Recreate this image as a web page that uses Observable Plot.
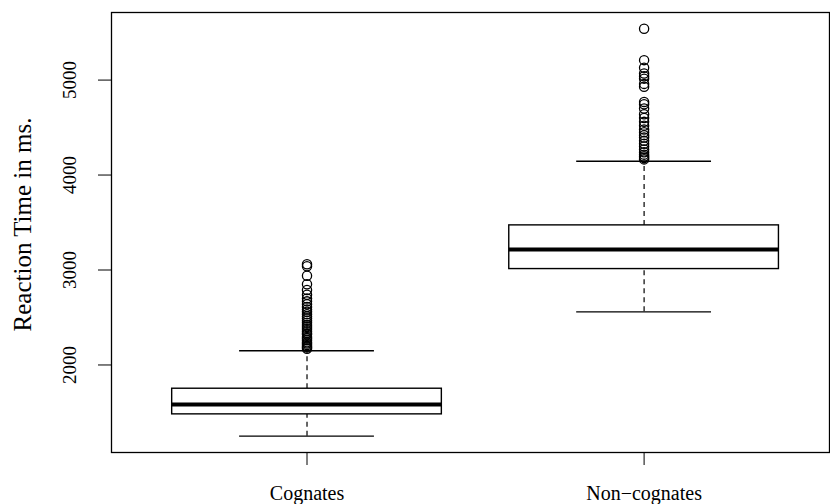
<!DOCTYPE html>
<html><head><meta charset="utf-8">
<script src="https://cdn.jsdelivr.net/npm/d3@7"></script>
<script src="https://cdn.jsdelivr.net/npm/@observablehq/plot@0.6"></script>
<style>body{margin:0;background:#fff} svg{display:block}</style>
</head><body><div id="chart"></div>
<script>
const categories = ["Cognates", "Non\u2212cognates"];
const lowerWhisker = [1250, 2560];
const q1 = [1480, 3010];
const median = [1585, 3215];
const q3 = [1750, 3470];
const upperWhisker = [2150, 4145];
const outliersCognates = [3060, 3040, 2940, 2850, 2790, 2740, 2700, 2670, 2640, 2610, 2585, 2560, 2535, 2510, 2490, 2465, 2445, 2420, 2400, 2380, 2355, 2335, 2320, 2295, 2280, 2260, 2240, 2225, 2210, 2195, 2185, 2170];
const outliersNonCognates = [5540, 5210, 5130, 5070, 5040, 5015, 4960, 4930, 4770, 4745, 4700, 4640, 4600, 4560, 4520, 4480, 4450, 4420, 4395, 4360, 4330, 4300, 4270, 4240, 4215, 4195, 4180, 4165];
const yTicks = [2000, 3000, 4000, 5000];
const yLabel = "Reaction Time in ms.";

const boxes = categories.map((c, i) => ({pos: i + 1, cat: c, lo: lowerWhisker[i], q1: q1[i], med: median[i], q3: q3[i], hi: upperWhisker[i]}));
const outliers = [
  ...outliersCognates.map(v => ({pos: 1, v})),
  ...outliersNonCognates.map(v => ({pos: 2, v}))
];
const allVals = [...lowerWhisker, ...upperWhisker, ...outliersCognates, ...outliersNonCognates];
const yMin = d3.min(allVals), yMax = d3.max(allVals);
const pad = 0.04 * (yMax - yMin);

const font = "'Liberation Serif', 'DejaVu Serif', serif";
const chart = Plot.plot({
  width: 830,
  height: 504,
  marginTop: 12,
  marginBottom: 52,
  marginLeft: 111,
  marginRight: 1,
  style: {fontFamily: font, fontSize: "19px", background: "white", color: "black"},
  x: {type: "linear", domain: [0.42, 2.55]},
  y: {domain: [yMin - pad, yMax + pad]},
  marks: [
    Plot.ruleX(boxes, {x: "pos", y1: "q3", y2: "hi", stroke: "black", strokeWidth: 1.2, strokeDasharray: "5,4"}),
    Plot.ruleX(boxes, {x: "pos", y1: "lo", y2: "q1", stroke: "black", strokeWidth: 1.2, strokeDasharray: "5,4"}),
    Plot.ruleY(boxes, {y: "hi", x1: d => d.pos - 0.2, x2: d => d.pos + 0.2, stroke: "black", strokeWidth: 1.3}),
    Plot.ruleY(boxes, {y: "lo", x1: d => d.pos - 0.2, x2: d => d.pos + 0.2, stroke: "black", strokeWidth: 1.3}),
    Plot.rect(boxes, {x1: d => d.pos - 0.4, x2: d => d.pos + 0.4, y1: "q1", y2: "q3", fill: "white", stroke: "black", strokeWidth: 1.4}),
    Plot.ruleY(boxes, {y: "med", x1: d => d.pos - 0.4, x2: d => d.pos + 0.4, stroke: "black", strokeWidth: 4}),
    Plot.dot(outliers, {x: "pos", y: "v", r: 4.6, stroke: "black", strokeWidth: 1.3, fill: "none"}),
    Plot.frame({stroke: "black", strokeWidth: 1.3}),
    Plot.axisY(yTicks, {tickSize: 13, tickPadding: 23, tickRotate: -90, tickFormat: d3.format("d"), label: null, fontSize: 19, fontFamily: font}),
    Plot.axisX([1, 2], {tickSize: 13, tickPadding: 20, tickFormat: d => categories[d - 1], label: null, fontSize: 20, fontFamily: font}),
    Plot.text([yLabel], {frameAnchor: "left", dx: -89, dy: -8, rotate: -90, textAnchor: "middle", lineAnchor: "middle", fontSize: 25, fontFamily: font})
  ]
});
document.getElementById("chart").appendChild(chart);
</script>
</body></html>
